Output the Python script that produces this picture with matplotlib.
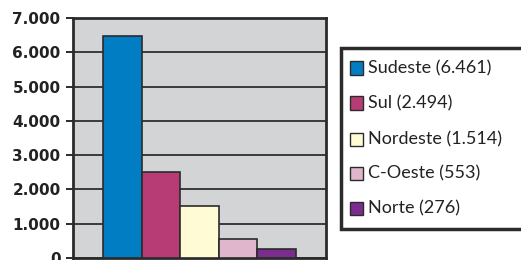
import matplotlib.pyplot as plt
from matplotlib.patches import Rectangle

regioes = ['Sudeste', 'Sul', 'Nordeste', 'C-Oeste', 'Norte']
valores = [6461, 2494, 1514, 553, 276]
rotulos = ['Sudeste (6.461)', 'Sul (2.494)', 'Nordeste (1.514)', 'C-Oeste (553)', 'Norte (276)']
cores = ['#007dc3', '#b73c76', '#fffbd5', '#dfb6cc', '#7b2d8e']
yticks = [0, 1000, 2000, 3000, 4000, 5000, 6000, 7000]
ytick_labels = ['0', '1.000', '2.000', '3.000', '4.000', '5.000', '6.000', '7.000']

fig = plt.figure(figsize=(5.21, 2.60), dpi=100)
ax = fig.add_axes([73 / 521, 2 / 260, 253 / 521, 240 / 260])
ax.set_facecolor('#d3d4d6')

x = list(range(len(valores)))
ax.bar(x, valores, width=1.0, color=cores, edgecolor='#2b2b2b', linewidth=1.2, zorder=3)

ax.set_xlim(-1.28, 5.28)
ax.set_ylim(0, 7000)
ax.set_yticks(yticks)
ax.set_yticklabels(ytick_labels, fontsize=11, fontweight='bold', color='#222222')
ax.set_xticks([])
ax.yaxis.grid(True, color='#3a3a3a', linewidth=1.4, zorder=1)
ax.tick_params(axis='y', length=5, width=1.4, color='#2b2b2b', pad=4)
for s in ax.spines.values():
    s.set_linewidth(2)
    s.set_color('#2b2b2b')

# legend box (runs off the right edge)
fig.patches.append(Rectangle((341 / 521, (260 - 229) / 260), 200 / 521, 181 / 260,
                             transform=fig.transFigure, facecolor='white',
                             edgecolor='#2b2b2b', linewidth=2.5))
ys = [68, 103, 139, 173, 208]
for yy, rot, c in zip(ys, rotulos, cores):
    fig.patches.append(Rectangle((350 / 521, (260 - yy - 6.5) / 260), 13 / 521, 13 / 260,
                                 transform=fig.transFigure, facecolor=c,
                                 edgecolor='#2b2b2b', linewidth=1))
    fig.text(368 / 521, (260 - yy) / 260, rot, fontsize=13, family='Lato',
             va='center', ha='left', color='#222222')

fig.savefig('out.png', dpi=100)
